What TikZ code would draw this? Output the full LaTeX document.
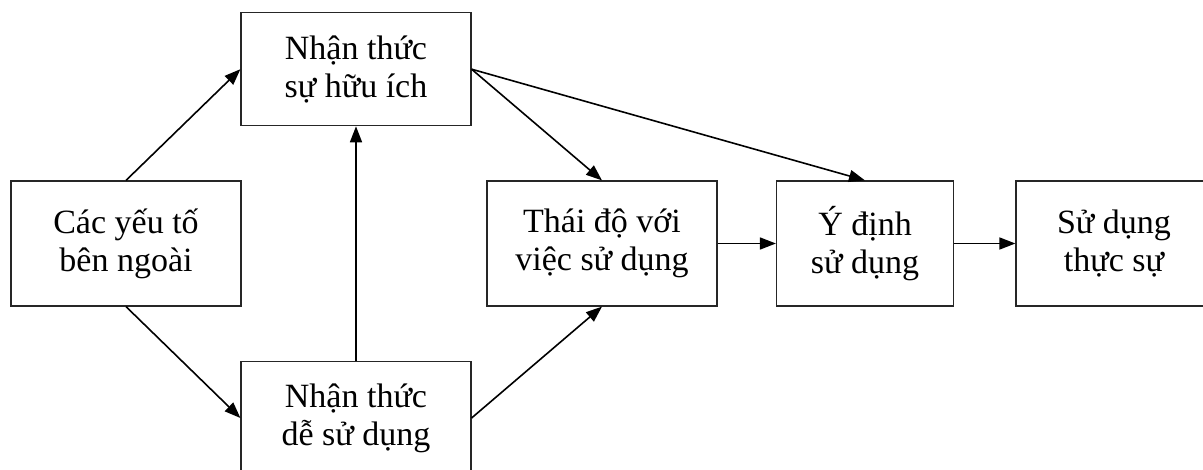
\documentclass[tikz,border=0pt]{standalone}
\usepackage{fontspec}
\setmainfont{Liberation Serif}
\usetikzlibrary{arrows.meta}
\begin{document}
\begin{tikzpicture}[x=1pt,y=-1pt,
  box/.style={draw=black!85, line width=1.2pt, rectangle, inner sep=0pt,
    align=center, font=\fontsize{34}{38}\selectfont},
  link/.style={line width=1.6pt, -{Triangle[length=16pt,width=12pt]}}]
\useasboundingbox (0,0) rectangle (1203,470);

% boxes of the model
\node[box, minimum width=230pt, minimum height=125pt] (ext) at (126,243.5) {Các yếu tố\\bên ngoài};
\node[box, minimum width=230pt, minimum height=113pt] (pu)  at (356,69.2) {Nhận thức\\sự hữu ích};
\node[box, minimum width=230pt, minimum height=113pt] (peou) at (356,418) {Nhận thức\\dễ sử dụng};
\node[box, minimum width=230pt, minimum height=125pt] (att) at (602,243.5) {Thái độ với\\việc sử dụng};
\node[box, minimum width=177pt, minimum height=125pt] (bi)  at (865,243.5) {Ý định\\sử dụng};
\node[box, minimum width=196pt, minimum height=125pt] (use) at (1114,243.5) {Sử dụng\\thực sự};

% relations
\draw[link] (ext.north) -- (pu.west);
\draw[link] (ext.south) -- (peou.west);
\draw[link] (peou.north) -- (pu.south);
\draw[link] (pu.east) -- (att.north);
\draw[link] (pu.east) -- (bi.north);
\draw[link] (peou.east) -- (att.south);
\draw[link] (att.east) -- (bi.west);
\draw[link] (bi.east) -- (use.west);
\end{tikzpicture}
\end{document}
